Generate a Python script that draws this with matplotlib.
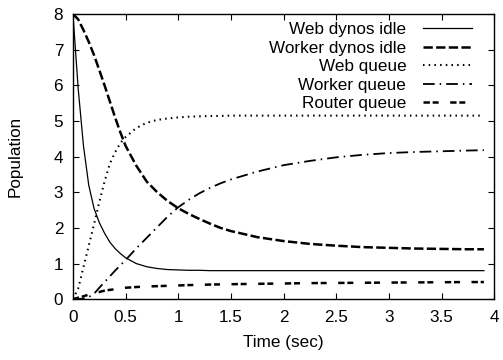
import matplotlib
matplotlib.use("Agg")
import matplotlib.pyplot as plt

plt.rcParams['font.family'] = ['Liberation Sans', 'DejaVu Sans']
plt.rcParams['font.size'] = 12.3
plt.rcParams['lines.scale_dashes'] = False

# sample times (sec)
t = [0, 0.05, 0.1, 0.15, 0.2, 0.25, 0.3, 0.35, 0.4, 0.45, 0.5, 0.6, 0.7, 0.8, 0.9,
     1.0, 1.1, 1.2, 1.3, 1.4, 1.5, 1.75, 2.0, 2.25, 2.5, 2.75, 3.0, 3.25, 3.5, 3.75, 3.9]

web_idle = [8, 5.9, 4.3, 3.2, 2.55, 2.15, 1.85, 1.6, 1.42, 1.28, 1.16, 1.0, 0.91, 0.86, 0.83,
            0.82, 0.81, 0.81, 0.8, 0.8, 0.8, 0.8, 0.8, 0.8, 0.8, 0.8, 0.8, 0.8, 0.8, 0.8, 0.8]
worker_idle = [8, 7.85, 7.55, 7.22, 6.85, 6.43, 6.0, 5.55, 5.1, 4.68, 4.3, 3.75, 3.3, 3.0, 2.75,
               2.55, 2.39, 2.25, 2.12, 2.0, 1.91, 1.74, 1.63, 1.55, 1.5, 1.46, 1.44, 1.42, 1.41, 1.4, 1.4]
web_queue = [0, 0.3, 0.9, 1.5, 2.1, 2.72, 3.3, 3.8, 4.12, 4.38, 4.55, 4.8, 4.95, 5.03, 5.07,
             5.1, 5.12, 5.13, 5.14, 5.14, 5.15, 5.15, 5.15, 5.15, 5.15, 5.15, 5.15, 5.15, 5.15, 5.15, 5.15]
worker_queue = [0, 0.0, 0.02, 0.06, 0.15, 0.32, 0.48, 0.64, 0.8, 0.95, 1.1, 1.42, 1.72, 2.02, 2.32,
                2.58, 2.79, 2.97, 3.12, 3.25, 3.36, 3.58, 3.76, 3.88, 3.98, 4.05, 4.1, 4.13, 4.15, 4.17, 4.18]
router_queue = [0, 0.04, 0.08, 0.13, 0.17, 0.2, 0.24, 0.26, 0.28, 0.3, 0.32, 0.34, 0.355, 0.365, 0.375,
                0.385, 0.395, 0.4, 0.41, 0.415, 0.42, 0.43, 0.44, 0.45, 0.455, 0.46, 0.465, 0.47, 0.475, 0.48, 0.48]

fig = plt.figure(figsize=(5.03, 3.6), dpi=100)
ax = fig.add_axes([0.145, 0.169, 0.838, 0.792])

ax.plot(t, web_idle, color='k', lw=0.9, label='Web dynos idle')
ax.plot(t, worker_idle, color='k', lw=1.8, dashes=(6.7, 2.4), label='Worker dynos idle')
ax.plot(t, web_queue, color='k', lw=1.5, dashes=(1.1, 3.0), label='Web queue')
ax.plot(t, worker_queue, color='k', lw=1.3, dashes=(8.4, 3.6, 1.1, 3.6), label='Worker queue')
ax.plot(t, router_queue, color='k', lw=1.8, dashes=(4.6, 2.0, 4.3, 8.3), label='Router queue')

ax.set_xlim(0, 4)
ax.set_ylim(0, 8)
ax.set_xticks([0, 0.5, 1, 1.5, 2, 2.5, 3, 3.5, 4])
ax.set_xticklabels(['0', '0.5', '1', '1.5', '2', '2.5', '3', '3.5', '4'])
ax.set_yticks(range(0, 9))
ax.tick_params(direction='in', top=True, right=True, length=4.5, width=0.8)
ax.tick_params(axis='x', pad=8)
ax.tick_params(axis='y', pad=7)
for s in ax.spines.values():
    s.set_linewidth(1.0)

ax.set_xlabel('Time (sec)', labelpad=7)
ax.set_ylabel('Population', labelpad=22)

ax.legend(loc='upper right', bbox_to_anchor=(0.947, 0.972), frameon=False, markerfirst=False,
          handlelength=2.9, handletextpad=0.95, labelspacing=0.21, borderpad=0,
          borderaxespad=0)

fig.savefig('out.png', dpi=100)
